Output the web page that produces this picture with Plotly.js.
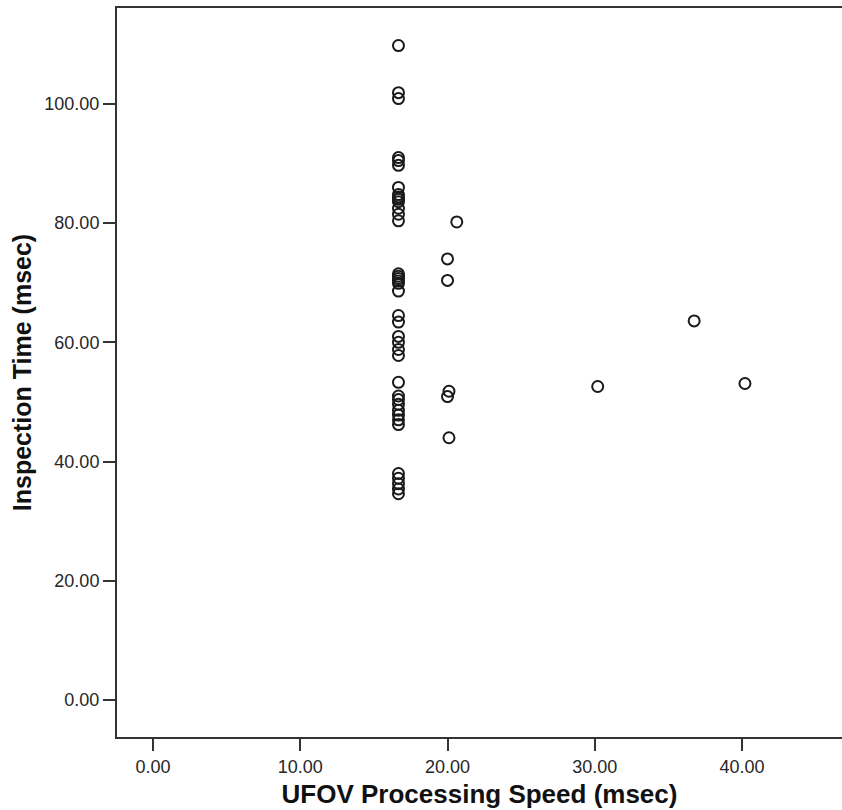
<!DOCTYPE html>
<html>
<head>
<meta charset="utf-8">
<script src="https://cdn.plot.ly/plotly-3.0.1.min.js"></script>
<style>
html,body{margin:0;padding:0;background:#fff;}
#chart{width:842px;height:810px;}
</style>
</head>
<body>
<div id="chart"></div>
<script>
// UFOV Processing Speed (msec) for each participant
var ufovSpeed = [
  16.67,16.67,16.67,16.67,16.67,16.67,16.67,16.67,16.67,16.67,
  16.67,16.67,16.67,16.67,16.67,16.67,16.67,16.67,16.67,16.67,
  16.67,16.67,16.67,16.67,16.67,16.67,16.67,16.67,16.67,16.67,
  16.67,16.67,16.67,16.67,16.67,16.67,16.67,16.67,16.67,
  20.63,20.0,20.0,20.1,20.0,20.1,
  30.2,36.75,40.2
];
// Inspection Time (msec) for each participant
var inspectionTime = [
  109.8,101.9,100.9,91.0,90.5,89.7,86.0,84.8,84.4,84.0,
  83.6,82.5,81.5,80.4,71.5,71.1,70.7,70.3,69.9,68.6,
  64.5,63.4,61.0,60.0,58.8,57.8,53.3,51.0,50.4,49.6,
  48.6,47.8,47.0,46.2,38.0,37.2,36.3,35.4,34.6,
  80.2,74.0,70.4,51.8,50.9,44.0,
  52.6,63.6,53.1
];
var xTicks = [0,10,20,30,40];
var xTickLabels = ["0.00","10.00","20.00","30.00","40.00"];
var yTicks = [0,20,40,60,80,100];
var yTickLabels = ["0.00","20.00","40.00","60.00","80.00","100.00"];

var trace = {
  x: ufovSpeed,
  y: inspectionTime,
  type: 'scatter',
  mode: 'markers',
  marker: {
    symbol: 'circle-open',
    size: 11,
    color: '#1a1a1a',
    line: {width: 2, color: '#1a1a1a'}
  },
  hoverinfo: 'x+y'
};

var layout = {
  width: 842,
  height: 810,
  margin: {l: 117, r: 0, t: 8, b: 73},
  paper_bgcolor: '#ffffff',
  plot_bgcolor: '#ffffff',
  showlegend: false,
  font: {family: 'Arial, "Liberation Sans", sans-serif', color: '#222'},
  xaxis: {
    range: [-2.445, 46.79],
    tickmode: 'array',
    tickvals: xTicks,
    ticktext: xTickLabels,
    ticks: 'outside',
    ticklen: 12,
    tickwidth: 2,
    tickcolor: '#333',
    tickfont: {size: 18, color: '#262626'},
    showline: true,
    linecolor: '#333',
    linewidth: 2,
    mirror: true,
    showgrid: false,
    zeroline: false,
    title: {text: 'UFOV Processing Speed (msec)', font: {size: 26, color: '#111', family: 'Arial, "Liberation Sans", sans-serif', weight: 'bold'}, standoff: 9}
  },
  yaxis: {
    range: [-6.21, 116.1],
    tickmode: 'array',
    tickvals: yTicks,
    ticktext: yTickLabels,
    ticks: 'outside',
    ticklen: 12,
    tickwidth: 2,
    tickcolor: '#333',
    tickfont: {size: 18, color: '#262626'},
    showline: true,
    linecolor: '#333',
    linewidth: 2,
    mirror: false,
    showgrid: false,
    zeroline: false,
    title: {text: 'Inspection Time (msec)', font: {size: 25, color: '#111', family: 'Arial, "Liberation Sans", sans-serif', weight: 'bold'}, standoff: 6}
  }
};

Plotly.newPlot('chart', [trace], layout, {displayModeBar: false, staticPlot: true});
</script>
</body>
</html>
